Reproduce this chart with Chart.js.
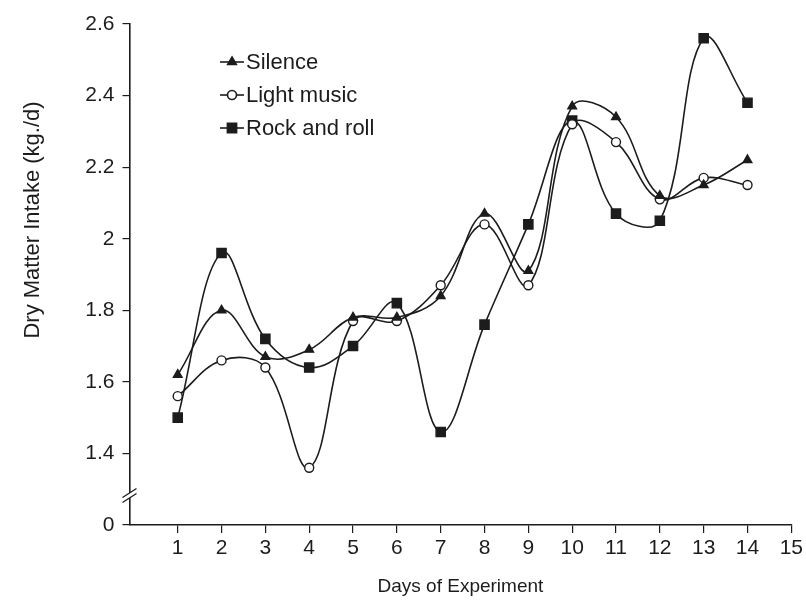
<!DOCTYPE html>
<html>
<head>
<meta charset="utf-8">
<script src="https://cdn.jsdelivr.net/npm/chart.js@4/dist/chart.umd.min.js"></script>
<style>
  html, body { margin: 0; background: #fff; }
  #wrap { width: 806px; height: 604px; }
</style>
</head>
<body>
<div id="wrap"><canvas id="intake-chart"></canvas></div>
<script>
// values
const days = [1, 2, 3, 4, 5, 6, 7, 8, 9, 10, 11, 12, 13, 14];
const silence = [1.62, 1.80, 1.67, 1.69, 1.78, 1.78, 1.84, 2.07, 1.91, 2.37, 2.34, 2.12, 2.15, 2.22];
const lightMusic = [1.56, 1.66, 1.64, 1.36, 1.77, 1.77, 1.87, 2.04, 1.87, 2.32, 2.27, 2.11, 2.17, 2.15];
const rockAndRoll = [1.50, 1.96, 1.72, 1.64, 1.70, 1.82, 1.46, 1.76, 2.04, 2.33, 2.07, 2.05, 2.56, 2.38];

const xTickValues = [1, 2, 3, 4, 5, 6, 7, 8, 9, 10, 11, 12, 13, 14, 15];
// axis is broken: the lowest tick (1.2 on the scale) is labelled 0
const yTickValues = [1.2, 1.4, 1.6, 1.8, 2.0, 2.2, 2.4, 2.6];
const yTickLabels = ['0', '1.4', '1.6', '1.8', '2', '2.2', '2.4', '2.6'];

const FONT = '"Liberation Sans", Arial, sans-serif';
const INK = '#1c1c1c';

function series(values) {
    return days.map((d, i) => ({ x: d, y: values[i] }));
}

const baseDs = {
    borderColor: INK,
    borderWidth: 1.6,
    pointBorderColor: INK,
    pointBorderWidth: 1.4,
    tension: 0.38,
    fill: false
};

// legend with line + marker, and the rotated y title and axis break
const decorations = {
    id: 'decorations',
    afterDraw(chart) {
        const ctx = chart.ctx;

        // y axis title
        ctx.save();
        ctx.fillStyle = INK;
        ctx.font = '22px ' + FONT;
        ctx.textAlign = 'center';
        ctx.textBaseline = 'middle';
        ctx.translate(33, 220);
        ctx.rotate(-Math.PI / 2);
        ctx.fillText('Dry Matter Intake (kg./d)', 0, 0);
        ctx.restore();

        // axis break
        const ax = chart.chartArea.left;
        ctx.save();
        ctx.fillStyle = '#fff';
        ctx.beginPath();
        ctx.moveTo(ax - 6, 497);
        ctx.lineTo(ax + 6, 489);
        ctx.lineTo(ax + 6, 494);
        ctx.lineTo(ax - 6, 502);
        ctx.closePath();
        ctx.fill();
        ctx.strokeStyle = INK;
        ctx.lineWidth = 1.3;
        ctx.beginPath();
        ctx.moveTo(ax - 7, 497.5);
        ctx.lineTo(ax + 7, 488.5);
        ctx.moveTo(ax - 7, 502.5);
        ctx.lineTo(ax + 7, 493.5);
        ctx.stroke();
        ctx.restore();

        // legend
        ctx.save();
        chart.data.datasets.forEach((ds, i) => {
            const y = 62 + i * 33;
            ctx.strokeStyle = INK;
            ctx.lineWidth = 1.6;
            ctx.beginPath();
            ctx.moveTo(220, y);
            ctx.lineTo(244, y);
            ctx.stroke();
            ctx.fillStyle = ds.pointBackgroundColor;
            ctx.strokeStyle = INK;
            Chart.helpers.drawPoint(ctx, {
                pointStyle: ds.pointStyle,
                radius: ds.pointRadius,
                rotation: 0,
                borderWidth: 1.4
            }, 232, y);
            ctx.fillStyle = INK;
            ctx.font = '22px ' + FONT;
            ctx.textAlign = 'left';
            ctx.textBaseline = 'middle';
            ctx.fillText(ds.label, 246, y + 1);
        });
        ctx.restore();
    }
};

const ctx = document.getElementById('intake-chart').getContext('2d');
const chart = new Chart(ctx, {
    type: 'line',
    data: {
        datasets: [
            Object.assign({}, baseDs, {
                label: 'Silence',
                data: series(silence),
                pointStyle: 'triangle',
                pointRadius: 5,
                pointBackgroundColor: INK
            }),
            Object.assign({}, baseDs, {
                label: 'Light music',
                data: series(lightMusic),
                pointStyle: 'circle',
                pointRadius: 4.5,
                pointBackgroundColor: '#fff'
            }),
            Object.assign({}, baseDs, {
                label: 'Rock and roll',
                data: series(rockAndRoll),
                pointStyle: 'rect',
                pointRadius: 6.5,
                pointBackgroundColor: INK
            })
        ]
    },
    options: {
        responsive: true,
        maintainAspectRatio: false,
        animation: false,
        layout: { padding: { left: 0, right: 14, top: 24, bottom: 0 } },
        plugins: {
            legend: { display: false },
            tooltip: { enabled: false }
        },
        scales: {
            x: {
                type: 'linear',
                min: -0.1,
                max: 15,
                afterBuildTicks: (scale) => {
                    scale.ticks = xTickValues.map(v => ({ value: v }));
                },
                afterFit: (scale) => { scale.height = 79; },
                grid: {
                    drawOnChartArea: false,
                    drawTicks: true,
                    tickLength: 8,
                    color: INK,
                    lineWidth: 1.2
                },
                border: { display: true, color: INK, width: 1.6 },
                ticks: {
                    font: { family: FONT, size: 21 },
                    color: INK,
                    padding: 3,
                    maxRotation: 0,
                    autoSkip: false
                },
                title: {
                    display: true,
                    text: 'Days of Experiment',
                    font: { family: FONT, size: 19 },
                    color: INK,
                    padding: { top: 0, bottom: 6 }
                }
            },
            y: {
                min: 1.2,
                max: 2.6,
                afterBuildTicks: (scale) => {
                    scale.ticks = yTickValues.map(v => ({ value: v }));
                },
                afterFit: (scale) => { scale.width = 129.5; },
                grid: {
                    drawOnChartArea: false,
                    drawTicks: true,
                    tickLength: 7,
                    color: INK,
                    lineWidth: 1.2
                },
                border: { display: true, color: INK, width: 1.6 },
                ticks: {
                    font: { family: FONT, size: 21 },
                    color: INK,
                    padding: 8,
                    callback: (value) => {
                        const i = yTickValues.findIndex(v => Math.abs(v - value) < 1e-6);
                        return i >= 0 ? yTickLabels[i] : '';
                    }
                }
            }
        }
    },
    plugins: [decorations]
});
</script>
</body>
</html>
